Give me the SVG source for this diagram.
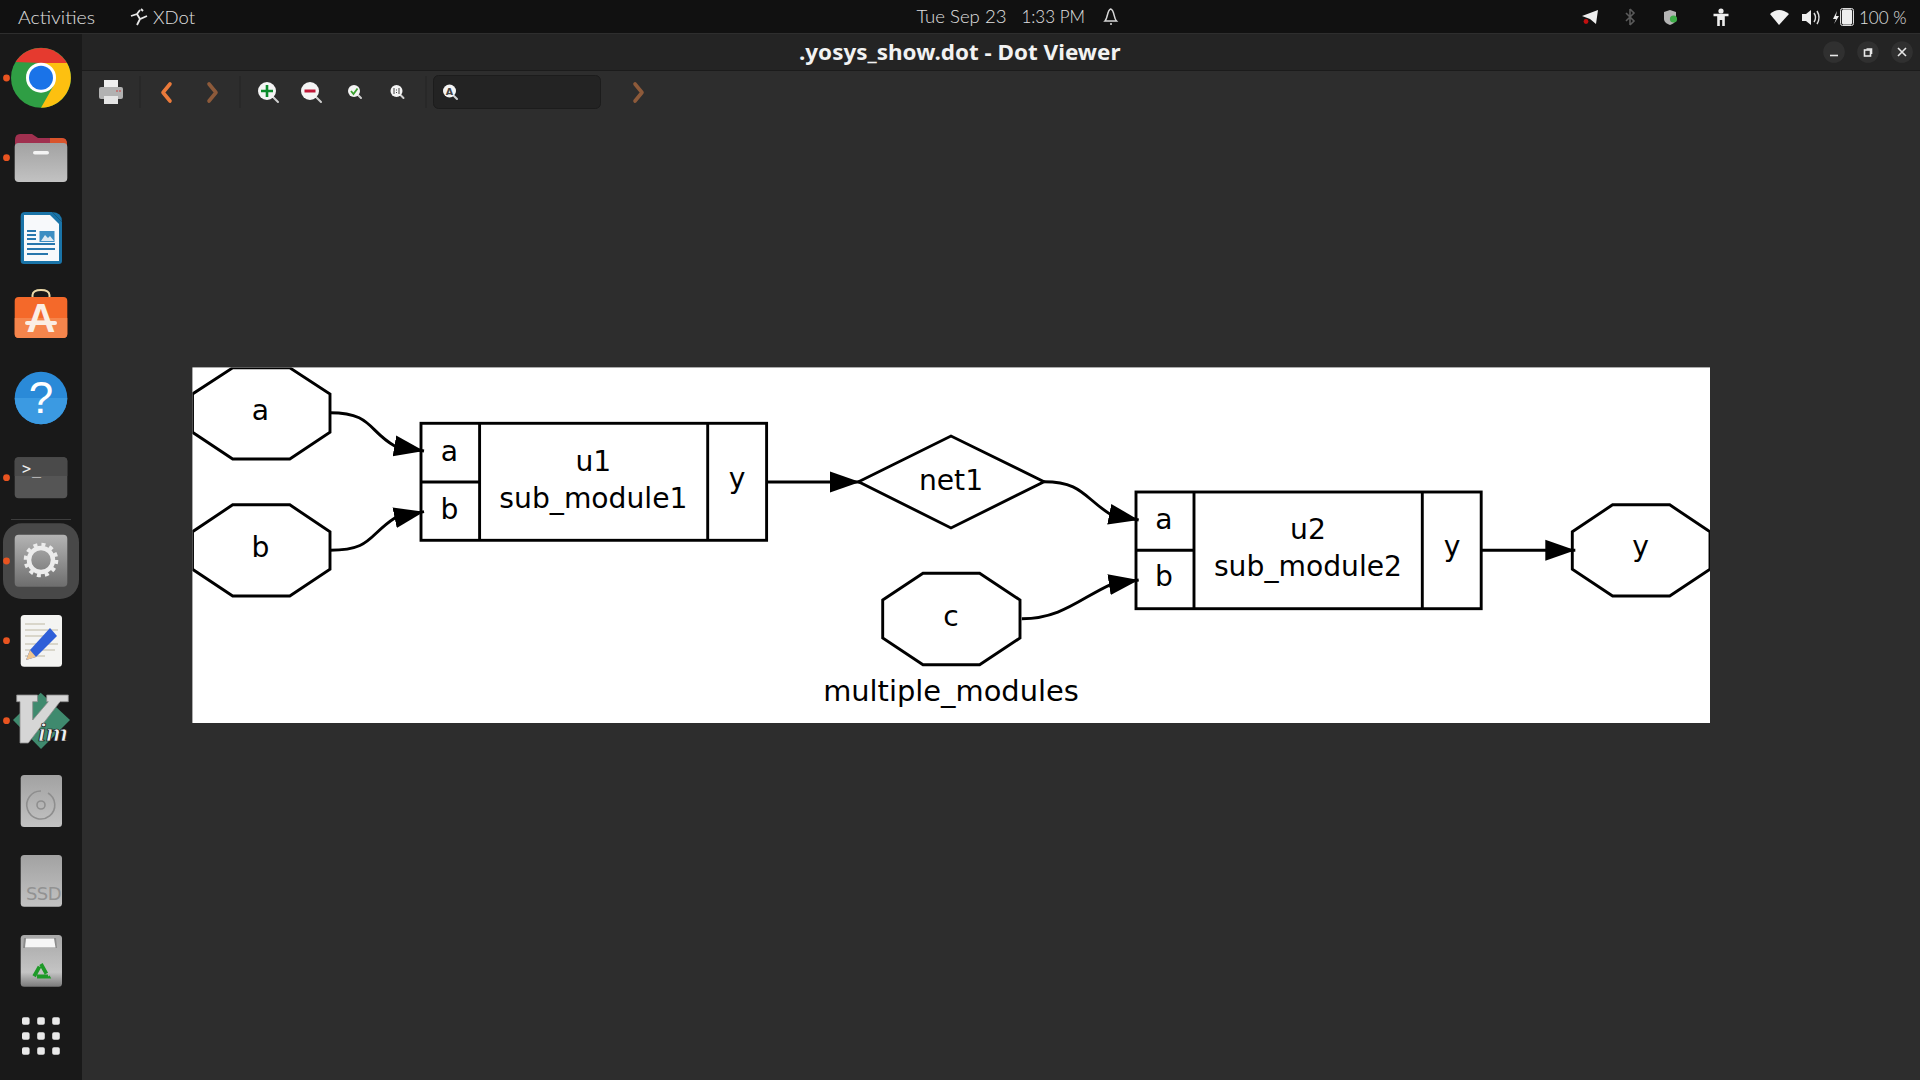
<svg xmlns="http://www.w3.org/2000/svg" width="1920" height="1080" viewBox="0 0 1920 1080">
<style>
.g{fill:#fff;stroke:#000;stroke-width:2.900}
.gl{fill:none;stroke:#000;stroke-width:2.900}
.t{font-family:"DejaVu Sans",sans-serif;font-size:28.200px;fill:#000;text-anchor:middle}
.ui{font-family:"Lato","Noto Sans",sans-serif;font-weight:300;font-size:17px;fill:#e0e0e0}
.title{font-family:"Noto Sans",sans-serif;font-weight:700;font-size:21px;fill:#f2f2f2}
.dot{fill:#e95420}
.chev{fill:none;stroke-width:3.600;stroke-linejoin:round;stroke-linecap:round}
.lens{fill:#f4f4f4}
.handle{stroke:#cfcfcf;stroke-width:2;stroke-linecap:round}
.wb{fill:#303030}
.wi{stroke:#e8e8e8;stroke-width:1.600;fill:none}
.grid{fill:#e9e9e9}
.tile{fill:url(#gy)}
</style>
<defs>
<marker id="ah" markerUnits="userSpaceOnUse" markerWidth="31" markerHeight="23" refX="30" refY="11" orient="auto"><path d="M0,0.500 L30,11 L0,21.500 Z" fill="#000"/></marker>
<clipPath id="cv2"><rect x="192.400" y="367.400" width="1517.600" height="355.600"/></clipPath>
<linearGradient id="gy" x1="0" y1="0" x2="0" y2="1"><stop offset="0" stop-color="#a2a2a2"/><stop offset="1" stop-color="#c2c2c2"/></linearGradient>
<linearGradient id="gear" x1="0" y1="0" x2="0" y2="1"><stop offset="0" stop-color="#b4b4b4"/><stop offset="1" stop-color="#6e6e6e"/></linearGradient>
<linearGradient id="trash" x1="0" y1="0" x2="0" y2="1"><stop offset="0" stop-color="#a8a8a8"/><stop offset=".72" stop-color="#c4c4c4"/><stop offset="1" stop-color="#7a7a7a"/></linearGradient>
</defs>

<rect id="desktop" width="1920" height="1080" fill="#2d2d2d"/>
<rect id="titlebar" x="0" y="34" width="1920" height="37" fill="#242424"/>
<rect x="0" y="70" width="1920" height="1" fill="#1b1b1b"/>
<rect id="topbar" width="1920" height="34" fill="#111"/>
<rect x="0" y="33" width="1920" height="1" fill="#2e2e2e"/>

<g id="top-left">
<text class="ui" x="18" y="24" textLength="77" lengthAdjust="spacingAndGlyphs">Activities</text>
<path d="M131,16 L137,14 L140,10 M141,9 L143,11 M137,14 L140,19 L147,16 M140,19 L137,25" stroke="#e8e8e8" stroke-width="1.800" fill="none"/>
<text class="ui" x="153" y="24" textLength="42" lengthAdjust="spacingAndGlyphs">XDot</text>
</g>
<g id="clock">
<text class="ui" x="916.500" y="23" textLength="90" lengthAdjust="spacingAndGlyphs">Tue Sep 23</text>
<text class="ui" x="1021.400" y="23" textLength="63.600" lengthAdjust="spacingAndGlyphs">1:33 PM</text>
<path d="M1105,21 C1108,18 1107,10 1110.700,9 C1114.500,10 1113.500,18 1116.500,21 Z M1110,24 h2" fill="none" stroke="#d8d8d8" stroke-width="1.500"/>
</g>
<g id="tray">
<path d="M1582,16 L1598,10 L1596,24 L1590,19 Z" fill="#eee"/><circle cx="1586" cy="21.500" r="2.400" fill="#c01010"/>
<path d="M1630,9 V25 M1626,13 L1634,21 L1630,25 M1626,21 L1634,13 L1630,9" fill="none" stroke="#5a5a5a" stroke-width="1.600"/>
<path d="M1664,12 L1670,10 L1676,12 V19 C1676,22 1673,24 1670,25 C1667,24 1664,22 1664,19 Z" fill="#b4b4b4"/><circle cx="1673.500" cy="19" r="3.600" fill="#3fae49"/>
<circle cx="1721" cy="11" r="2.600" fill="#eee"/><path d="M1713.500,15 H1728.500 M1721,15 V20 M1718.500,16 V26 M1723.500,16 V26" stroke="#eee" stroke-width="2.600" fill="none"/>
<path d="M1770,14 Q1779,6 1789,14 L1779,25 Z" fill="#f2f2f2"/>
<path d="M1802,14 H1806 L1811,10 V25 L1806,21 H1802 Z" fill="#eee"/><path d="M1814,13 Q1817,17.500 1814,22 M1817,11 Q1821,17.500 1817,24" stroke="#ddd" stroke-width="1.500" fill="none"/>
<path d="M1837,11 L1833,19 H1836 L1834,24 L1839,16 H1836 Z" fill="#eee"/>
<rect x="1841.500" y="9" width="11" height="16" rx="2" fill="#eee" stroke="#111" stroke-width="0.800"/><rect x="1840.500" y="8.500" width="13" height="17" rx="2" fill="none" stroke="#ddd" stroke-width="1"/>
<text class="ui" x="1859" y="24" textLength="47.500" lengthAdjust="spacingAndGlyphs">100 %</text>
</g>
<g id="window-title"><text class="title" x="799" y="59.500" textLength="321.500" lengthAdjust="spacingAndGlyphs">.yosys_show.dot - Dot Viewer</text></g>
<g id="window-buttons">
<circle class="wb" cx="1834" cy="52" r="10.800"/><path class="wi" d="M1830,55.500 H1838"/>
<circle class="wb" cx="1868" cy="52" r="10.800"/><rect class="wi" x="1864.500" y="50" width="6" height="6"/><path class="wi" d="M1866.500,49 H1871.500 V54" stroke-width="1"/>
<circle class="wb" cx="1902" cy="52" r="10.800"/><path class="wi" d="M1898,48 L1906,56 M1906,48 L1898,56"/>
</g>

<g id="toolbar">
<rect x="104" y="80" width="14" height="8" fill="#f0f0f0"/>
<rect x="99" y="87" width="24" height="12" rx="2" fill="#b2b2b2"/>
<rect x="104" y="96" width="14" height="8" fill="#e4e4e4"/>
<circle cx="117" cy="91" r="0.800" fill="#c33"/><circle cx="120" cy="91" r="0.800" fill="#c33"/>
<rect x="139.500" y="76" width="1" height="32" fill="#252525"/>
<path class="chev" d="M170,84 L163,92.500 L170,101" stroke="#ea7a3b"/>
<path class="chev" d="M209,84 L216,92.500 L209,101" stroke="#8d5a3a"/>
<rect x="239.500" y="76" width="1" height="32" fill="#252525"/>
<path class="handle" d="M273,97 L278,102"/><circle class="lens" cx="267" cy="91" r="9"/><path d="M261,91 H273 M267,85 V97" stroke="#0c8a2c" stroke-width="2.600"/>
<path class="handle" d="M316,97 L321,102"/><circle class="lens" cx="310" cy="91" r="9"/><path d="M304.500,91 H315.500" stroke="#c01838" stroke-width="3"/>
<path class="handle" d="M358,95 L361,98"/><circle class="lens" cx="354" cy="91" r="6"/><path d="M351,91 L353.500,94 L357.500,88.500" fill="none" stroke="#3aa02f" stroke-width="1.800"/>
<path class="handle" d="M400.500,95 L403.500,98"/><circle class="lens" cx="396.500" cy="91" r="6"/><path d="M394,88 V94 M399,88 V94 M396.500,89.500 V90.500 M396.500,92 V93" stroke="#444" stroke-width="1"/>
<rect x="425.500" y="76" width="1" height="32" fill="#252525"/>
<rect x="433.500" y="75.500" width="167" height="33" rx="5" fill="#232323" stroke="#1c1c1c"/>
<path class="handle" d="M454,96 L457,99"/><circle class="lens" cx="449.500" cy="91" r="6.500"/>
<text x="449.500" y="95" font-family="DejaVu Sans, sans-serif" font-weight="700" font-size="9.500px" fill="#444" text-anchor="middle">A</text>
<path class="chev" d="M635,84 L642,92.500 L635,101" stroke="#8d5a3a"/>
</g>

<rect id="dock" x="0" y="34" width="82" height="1046" fill="#191919"/>
<g id="dock-chrome">
<circle class="dot" cx="6.500" cy="78" r="3.400"/>
<circle cx="41" cy="77.700" r="30" fill="#2f9e44"/>
<path d="M15.600,62 A30,30 0 0 1 67,63 L41,63 Z" fill="#e53a2f"/>
<path d="M67,63 A30,30 0 0 1 41,107.700 L54,85 L41,63 Z" fill="#fdc010"/>
<circle cx="41" cy="77.700" r="15" fill="#fff"/><circle cx="41" cy="77.700" r="12" fill="#1a73e8"/>
</g>
<g id="dock-files">
<circle class="dot" cx="6.500" cy="157.700" r="3.400"/>
<path d="M15,150 V140 Q15,134 20,134 H32 L38,138 H62 Q67,138 67,144 V150 Z" fill="#a0304f"/>
<path d="M50,138 H62 Q67,138 67,144 V150 H50 Z" fill="#d9542c"/>
<rect x="14.700" y="143" width="52.600" height="39" rx="4" fill="url(#gy)"/>
<rect x="33" y="151" width="16" height="3.600" rx="1.800" fill="#f4f4f4"/>
</g>
<g id="dock-writer">
<path d="M25,212 H52 L62,222 V261 Q62,264 59,264 H24 Q20.700,264 20.700,261 V216 Q20.700,212 25,212 Z" fill="#1a74a8"/>
<path d="M24,215 H50 L59,224 V261 H24 Z" fill="#f7f9fb"/>
<path d="M52,212 Q62,212 62,222 Z" fill="#1a74a8"/>
<rect x="39.500" y="231" width="15" height="11" fill="#3d8ec2"/>
<path d="M41,241 L45,235 L48,238 L50,236 L54,241 Z" fill="#dfeaf2"/>
<path d="M27,231 H36 M27,235 H36 M27,239 H36 M27,244 H55 M27,249 H55 M27,254 H48" stroke="#2877ad" stroke-width="2"/>
</g>
<g id="dock-store">
<path d="M32.500,298 V295 Q33,290 41,290 Q49,290 49.500,295 V298" fill="none" stroke="#ecd9a8" stroke-width="2"/>
<rect x="14.700" y="297" width="52.600" height="41" rx="4" fill="#f4692a"/>
<path d="M14.700,318 H67.300 V334 Q67.300,338 63,338 H19 Q14.700,338 14.700,334 Z" fill="#f5854c"/>
<rect x="25" y="321" width="32" height="4" rx="2" fill="#fbeee4"/>
<text x="41" y="332" font-family="Liberation Sans, sans-serif" font-weight="700" font-size="40px" fill="#fbeee4" text-anchor="middle">A</text>
</g>
<g id="dock-help">
<circle cx="41" cy="398" r="26.300" fill="#2a8ad8"/>
<path d="M14.700,398 A26.300,26.300 0 0 0 67.300,398 Z" fill="#3b9ae2"/>
<text x="41" y="413" font-family="Liberation Sans, sans-serif" font-size="44px" fill="#fff" text-anchor="middle">?</text>
</g>
<g id="dock-terminal">
<circle class="dot" cx="6.500" cy="477.700" r="3.400"/>
<rect x="14.700" y="457.300" width="52.600" height="41" rx="4" fill="#555"/>
<path d="M14.700,461 Q14.700,457.300 19,457.300 H63 Q67.300,457.300 67.300,461 V476 H14.700 Z" fill="#4a4a4a"/>
<text x="22" y="474" font-family="DejaVu Sans Mono, monospace" font-size="15px" fill="#f0f0f0" textLength="19">&gt;_</text>
</g>
<rect id="dock-separator" x="11" y="519" width="60" height="1" fill="#3d3d3d"/>
<g id="dock-settings">
<rect x="3" y="523.300" width="76" height="75.700" rx="19" fill="#484848"/>
<circle class="dot" cx="6.500" cy="561" r="3.400"/>
<rect x="14.700" y="534.700" width="52.600" height="52" rx="4" fill="url(#gear)"/>
<circle cx="41" cy="560" r="12" fill="none" stroke="#ececec" stroke-width="4.500"/>
<circle cx="41" cy="560" r="15.500" fill="none" stroke="#ececec" stroke-width="3.600" stroke-dasharray="4 4.115"/>
</g>
<g id="dock-editor">
<circle class="dot" cx="6.500" cy="640.700" r="3.400"/>
<rect x="20.700" y="615" width="41.300" height="51.700" rx="3.500" fill="#f4f4f2"/>
<path d="M25,624 H45 M25,630 H58 M25,636 H50 M25,644 H58 M25,650 H55 M25,656 H45" stroke="#cfcbbd" stroke-width="1.600"/>
<path d="M50,628 L57,636 L36,657 L26,660 L30,650 Z" fill="#2f5fd8"/>
<path d="M26,660 L30,650 L36,657 Z" fill="#eec58f"/>
</g>
<g id="dock-vim">
<circle class="dot" cx="6.500" cy="720.700" r="3.400"/>
<path d="M40.700,692.700 L70,720 L41,749 L13,720 Z" fill="#3f8a6e"/>
<path d="M16.700,695 H37.500 V701.700 H32.700 V720 L48.300,701.700 H46.700 V695 H68.300 V701.700 H60 L28.300,743 H20 V701.700 H16.700 Z" fill="#d6d6d6" stroke="#8a8a8a" stroke-width="0.800"/>
<text x="38" y="741" font-family="Liberation Serif, serif" font-weight="700" font-style="italic" font-size="25px" fill="#f0f0f0" stroke="#111" stroke-width="0.700" textLength="30" lengthAdjust="spacingAndGlyphs">im</text>
</g>
<g id="dock-disc">
<rect class="tile" x="20.700" y="775" width="41.300" height="52" rx="3.500"/>
<path d="M48,793 A14,14 0 1 1 41,791" fill="none" stroke="#8e8e8e" stroke-width="1.600"/>
<circle cx="41" cy="805" r="4" fill="none" stroke="#8e8e8e" stroke-width="1.600"/>
</g>
<g id="dock-ssd">
<rect class="tile" x="20.700" y="855" width="41.300" height="51.700" rx="3.500"/>
<text x="26" y="900" font-family="DejaVu Sans, sans-serif" font-size="18px" fill="#929292" textLength="35.500">SSD</text>
</g>
<g id="dock-trash">
<rect x="20.700" y="935" width="41.300" height="51.700" rx="3.500" fill="url(#trash)"/>
<path d="M24,938 H56 L57,948 H23 Z" fill="#8c8c8c"/><path d="M26,938.500 H54 L55.500,947.500 H25 Z" fill="#f6f6f6"/>
<polygon points="41,964 48,976.500 34,976.500" fill="none" stroke="#1e9a28" stroke-width="3.800" stroke-dasharray="11 3.300"/>
</g>
<g id="dock-apps">
<rect class="grid" x="22" y="1017.200" width="7.600" height="7.600" rx="1.800"/><rect class="grid" x="37.200" y="1017.200" width="7.600" height="7.600" rx="1.800"/><rect class="grid" x="52.200" y="1017.200" width="7.600" height="7.600" rx="1.800"/>
<rect class="grid" x="22" y="1032.200" width="7.600" height="7.600" rx="1.800"/><rect class="grid" x="37.200" y="1032.200" width="7.600" height="7.600" rx="1.800"/><rect class="grid" x="52.200" y="1032.200" width="7.600" height="7.600" rx="1.800"/>
<rect class="grid" x="22" y="1047.200" width="7.600" height="7.600" rx="1.800"/><rect class="grid" x="37.200" y="1047.200" width="7.600" height="7.600" rx="1.800"/><rect class="grid" x="52.200" y="1047.200" width="7.600" height="7.600" rx="1.800"/>
</g>

<rect id="canvas" x="192.400" y="367.400" width="1517.600" height="355.600" fill="#fff"/>
<g clip-path="url(#cv2)">
<g id="n-a"><polygon class="g" points="192.500,394 232.700,367.800 289.800,367.800 330,394 330,432.300 289.800,459 232.700,459 192.500,432.300"/><text class="t" x="260.400" y="420.200">a</text></g>
<g id="n-b"><polygon class="g" points="192.500,531.700 232.700,504.800 289.800,504.800 330,531.700 330,569.300 289.800,596 232.700,596 192.500,569.300"/><text class="t" x="260.400" y="557.200">b</text></g>
<g id="n-u1"><rect class="g" x="421" y="423.300" width="345.600" height="117"/><path class="gl" d="M479.600,423.300 V540.300 M707.700,423.300 V540.300 M421,482 H479.600"/>
<text class="t" x="449.500" y="460.500">a</text><text class="t" x="449.500" y="518.500">b</text><text class="t" x="593.400" y="471">u1</text><text class="t" x="593.400" y="507.700">sub_module1</text><text class="t" x="737" y="487.500">y</text></g>
<g id="n-net1"><polygon class="g" points="858.600,481.700 951,436 1044,481.700 951,528"/><text class="t" x="951" y="489.700">net1</text></g>
<g id="n-c"><polygon class="g" points="882.700,600 923,573.200 979.600,573.200 1020,600 1020,638 979.600,664.700 923,664.700 882.700,638"/><text class="t" x="951" y="625.500">c</text></g>
<g id="n-u2"><rect class="g" x="1136" y="492" width="345.200" height="116.700"/><path class="gl" d="M1194,492 V608.700 M1422.300,492 V608.700 M1136,550.300 H1194"/>
<text class="t" x="1164" y="528.500">a</text><text class="t" x="1164" y="586">b</text><text class="t" x="1308" y="538.500">u2</text><text class="t" x="1308" y="575.700">sub_module2</text><text class="t" x="1452" y="555.500">y</text></g>
<g id="n-y"><polygon class="g" points="1572.300,531.700 1612.600,504.800 1669.700,504.800 1710,531.700 1710,569.300 1669.700,596 1612.600,596 1572.300,569.300"/><text class="t" x="1640.600" y="555.500">y</text></g>
<g id="connectors">
<path class="gl" marker-end="url(#ah)" d="M330,412.700 C372,412.700 368,431 394.700,446 L424,451"/>
<path class="gl" marker-end="url(#ah)" d="M330,550.300 C372,550.300 368,535 395.200,517.700 L424,511.700"/>
<path class="gl" marker-end="url(#ah)" d="M766.600,482 L860,482"/>
<path class="gl" marker-end="url(#ah)" d="M1044,481.700 C1082,481.700 1084,498 1110.700,514.500 L1138.700,520"/>
<path class="gl" marker-end="url(#ah)" d="M1021.800,618.700 C1062,618.700 1082,597 1111.200,584.300 L1138.700,580"/>
<path class="gl" marker-end="url(#ah)" d="M1481.500,550.300 L1575.300,550.300"/>
</g>
<text id="graph-label" class="t" x="951" y="701" style="font-size:28.900px">multiple_modules</text>
</g>
</svg>
